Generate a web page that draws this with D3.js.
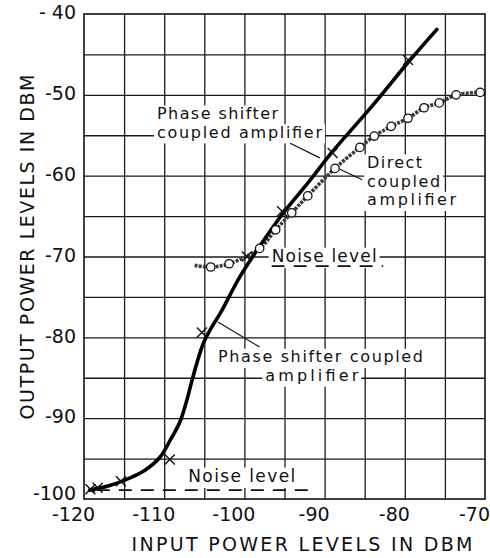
<!DOCTYPE html>
<html>
<head>
<meta charset="utf-8">
<script src="https://d3js.org/d3.v7.min.js"></script>
<style>
body{margin:0;background:#fff;}
svg{display:block;}
text{font-family:"DejaVu Sans",sans-serif;fill:#111;}
</style>
</head>
<body>
<svg id="myGraph" width="490" height="558"></svg>
<script>
// axis ticks (DBM)
var xTicks = [-120,-110,-100,-90,-80,-70];
var xTickLabels = ["-120","-110","-100","-90","-80","-70"];
var yTicks = [-40,-50,-60,-70,-80,-90,-100];
var yTickLabels = ["- 40","-50","-60","-70","-80","-90","-100"];
var xGrid = [-115,-110,-105,-100,-95,-90,-85,-80,-75];
var yGrid = [-45,-50,-55,-60,-65,-70,-75,-80,-85,-90,-95];

// phase shifter coupled amplifier - measured points (x marks)
var phasePtX = [-119.2,-118.3,-115.4,-109.3,-105.3,-99.7,-95.3,-89.0,-79.6];
var phasePtY = [-98.8,-98.6,-97.8,-95.1,-79.4,-70.0,-64.4,-57.2,-45.7];
// phase shifter coupled amplifier - drawn curve
var phaseCurveX = [-119.3,-117,-115,-112.5,-110.5,-109.3,-108.1,-107.3,-106.6,-105.9,-105.1,-104,-103,-100.5,-98,-95.3,-92,-89,-84,-79.6,-76];
var phaseCurveY = [-98.9,-98.4,-97.7,-96.5,-94.8,-92.8,-90.6,-88.2,-85.6,-83.1,-80.7,-78.6,-77.0,-72.4,-68.6,-64.8,-60.8,-57.0,-51.3,-46.0,-41.9];

// direct coupled amplifier - measured points (circles)
var directX = [-104.2,-101.9,-98.1,-96.1,-94.1,-92.1,-88.7,-85.6,-83.8,-81.7,-79.6,-77.6,-75.7,-73.6,-70.6];
var directY = [-71.3,-70.9,-69.0,-66.7,-64.6,-62.5,-59.1,-56.5,-55.1,-53.9,-52.9,-51.6,-51.0,-50.0,-49.7];
// direct coupled amplifier - drawn line
var directLineX = [-106.2,-104.2,-101.9,-98.1,-96.1,-94.1,-92.1,-88.7,-85.6,-83.8,-81.7,-79.6,-77.6,-75.7,-73.6,-70.6];
var directLineY = [-71.1,-71.3,-70.9,-69.0,-66.7,-64.6,-62.5,-59.1,-56.5,-55.1,-53.9,-52.9,-51.6,-51.0,-50.0,-49.7];

// noise levels (dashed)
var noiseLevel = [-71.2,-98.9];
var noiseFrom = [-96.6,-118.4];
var noiseTo = [-82.7,-91.6];

window.addEventListener("load",function(){

	var svg = d3.select("#myGraph");
	var left = 84, right = 485, top = 14, bottom = 499;

	var x = d3.scaleLinear().domain([-120,-70]).range([left,right]);
	var y = d3.scaleLinear().domain([-100,-40]).range([bottom,top]);

	// grid
	var gx = svg.append("g")
		.attr("transform","translate(0,"+bottom+")")
		.call(d3.axisBottom(x).tickValues(xGrid).tickSize(-(bottom-top)).tickFormat(""));
	gx.select(".domain").remove();
	gx.selectAll("line").attr("stroke","#1a1a1a").attr("stroke-width",1.3);

	var gy = svg.append("g")
		.attr("transform","translate("+left+",0)")
		.call(d3.axisLeft(y).tickValues(yGrid).tickSize(-(right-left)).tickFormat(""));
	gy.select(".domain").remove();
	gy.selectAll("line").attr("stroke","#1a1a1a").attr("stroke-width",1.3);

	// frame
	svg.append("rect")
		.attr("x",left).attr("y",top)
		.attr("width",right-left).attr("height",bottom-top)
		.attr("fill","none").attr("stroke","#111").attr("stroke-width",1.6);

	// tick labels
	var ax = svg.append("g")
		.attr("transform","translate(0,"+bottom+")")
		.call(d3.axisBottom(x).tickValues(xTicks).tickSize(0).tickPadding(9)
			.tickFormat(function(d,i){ return xTickLabels[i]; }));
	ax.select(".domain").remove();
	ax.attr("font-size",19).attr("font-family",null);
	ax.selectAll("text").attr("dx",-11);

	var ay = svg.append("g")
		.attr("transform","translate("+left+",0)")
		.call(d3.axisLeft(y).tickValues(yTicks).tickSize(0).tickPadding(8)
			.tickFormat(function(d,i){ return yTickLabels[i]; }));
	ay.select(".domain").remove();
	ay.attr("font-size",19).attr("font-family",null);
	ay.selectAll("text").attr("dy",function(d){ return d === -100 ? "0em" : "0.25em"; });

	// axis titles
	svg.append("text")
		.attr("x",302).attr("y",551)
		.attr("text-anchor","middle")
		.attr("font-size",19)
		.attr("textLength",341).attr("lengthAdjust","spacing")
		.text("INPUT POWER LEVELS IN DBM");

	svg.append("text")
		.attr("transform","translate(34,247) rotate(-90)")
		.attr("text-anchor","middle")
		.attr("font-size",19)
		.attr("textLength",345).attr("lengthAdjust","spacing")
		.text("OUTPUT POWER LEVELS IN DBM");

	// labels (white boxes hide the grid behind them)
	var maskLayer = svg.append("g");
	var markLayer = svg.append("g");
	var textLayer = svg.append("g");

	// x/y of the first baseline in data units, gap between lines in px, width of each line
	var labels = [
		{lines:["Phase shifter","coupled amplifier"], x:[-110.9,-110.9], y:-53.0, gap:18.7, w:[121,165], fs:16},
		{lines:["Direct","coupled","amplifier"], x:[-84.7,-84.7,-84.7], y:-59.05, gap:18.7, w:[55,73,89], fs:16},
		{lines:["Phase shifter coupled","amplifier"], x:[-103.3,-97.4], y:-83.1, gap:18.7, w:[205,93], fs:16},
		{lines:["Noise level"], x:[-96.6], y:-70.7, gap:0, w:[105], fs:17},
		{lines:["Noise level"], x:[-107.0], y:-97.9, gap:0, w:[107], fs:17}
	];
	labels.forEach(function(l){
		var t = textLayer.append("text").attr("font-size",l.fs);
		l.lines.forEach(function(s,i){
			var bx = x(l.x[i]), by = y(l.y) + i*l.gap;
			t.append("tspan")
				.attr("x",bx).attr("y",by)
				.attr("textLength",l.w[i]).attr("lengthAdjust","spacing")
				.text(s);
			maskLayer.append("rect")
				.attr("x",bx-3).attr("y",by-l.fs*0.85)
				.attr("width",l.w[i]+6).attr("height",l.fs*1.2)
				.attr("fill","#fff");
		});
	});

	// noise level dashes
	markLayer.selectAll("line.noise")
		.data(noiseLevel)
		.enter()
		.append("line")
		.attr("class","noise")
		.attr("x1",function(d,i){ return x(noiseFrom[i]); })
		.attr("x2",function(d,i){ return x(noiseTo[i]); })
		.attr("y1",function(d){ return y(d); })
		.attr("y2",function(d){ return y(d); })
		.attr("stroke","#111").attr("stroke-width",1.8)
		.attr("stroke-dasharray","13 9");

	// leader lines
	var leaders = [
		[-94.3,-56.0,-90.6,-57.8],
		[-88.1,-59.2,-85.3,-60.5],
		[-103.3,-78.1,-98.1,-81.2]
	];
	markLayer.selectAll("line.leader")
		.data(leaders)
		.enter()
		.append("line")
		.attr("class","leader")
		.attr("x1",function(d){ return x(d[0]); })
		.attr("y1",function(d){ return y(d[1]); })
		.attr("x2",function(d){ return x(d[2]); })
		.attr("y2",function(d){ return y(d[3]); })
		.attr("stroke","#111").attr("stroke-width",1.2);

	var line = d3.line()
		.x(function(d){ return x(d[0]); })
		.y(function(d){ return y(d[1]); })
		.curve(d3.curveCatmullRom);

	// direct coupled amplifier line
	markLayer.append("path")
		.attr("d",line(d3.zip(directLineX,directLineY)))
		.attr("fill","none")
		.attr("stroke","#3a3a3a").attr("stroke-width",3.6)
		.attr("stroke-dasharray","3 1.2");

	// phase shifter curve
	markLayer.append("path")
		.attr("d",line(d3.zip(phaseCurveX,phaseCurveY)))
		.attr("fill","none")
		.attr("stroke","#000").attr("stroke-width",3.6)
		.attr("stroke-linecap","round");

	// circles
	markLayer.selectAll("circle")
		.data(d3.zip(directX,directY))
		.enter()
		.append("circle")
		.attr("cx",function(d){ return x(d[0]); })
		.attr("cy",function(d){ return y(d[1]); })
		.attr("r",4.2)
		.attr("fill","#fff").attr("stroke","#111").attr("stroke-width",1.3);

	// x marks
	markLayer.selectAll("path.xmark")
		.data(d3.zip(phasePtX,phasePtY))
		.enter()
		.append("path")
		.attr("class","xmark")
		.attr("d","M-5,-5L5,5M-5,5L5,-5")
		.attr("transform",function(d){ return "translate("+x(d[0])+","+y(d[1])+")"; })
		.attr("stroke","#111").attr("stroke-width",1.4);

});
</script>
</body>
</html>
